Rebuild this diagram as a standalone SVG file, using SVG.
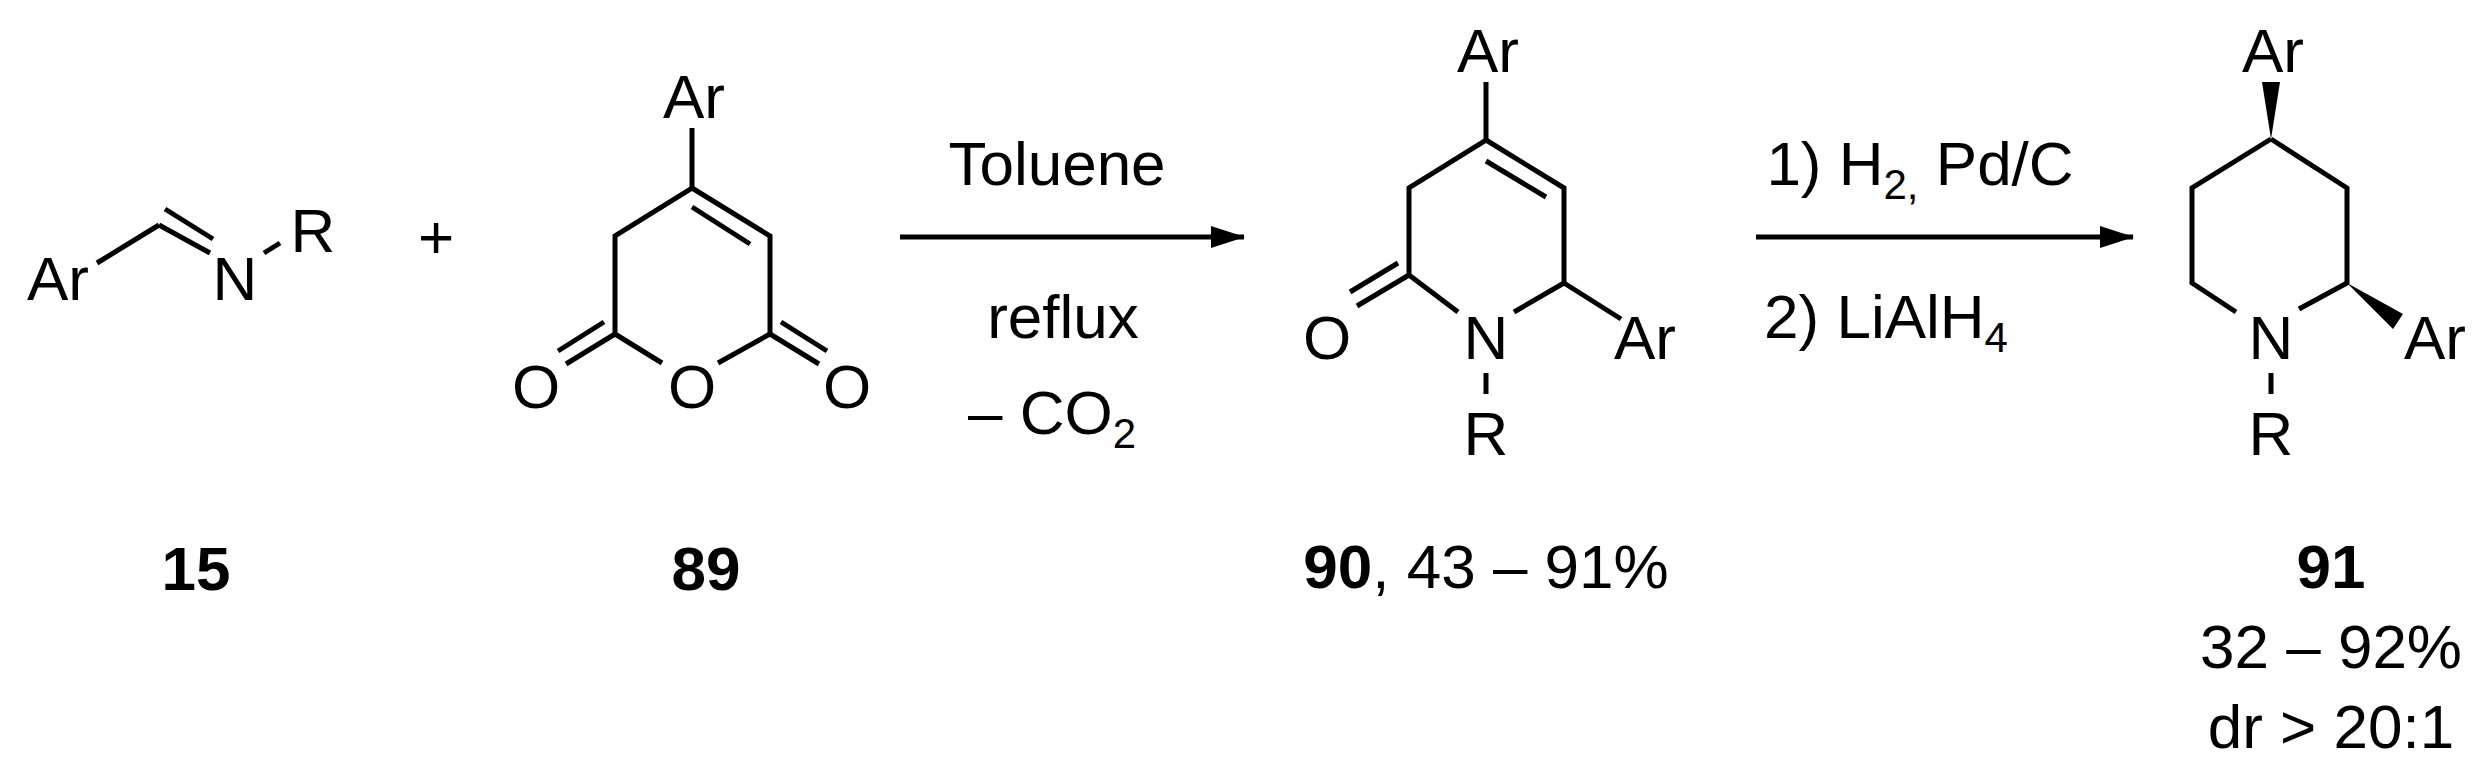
<svg xmlns="http://www.w3.org/2000/svg" width="2488" height="764" viewBox="0 0 2488 764">
<style>
text{font-family:"Liberation Sans",Arial,sans-serif;font-size:62px;fill:#000}
.c{text-anchor:middle}
.b{font-weight:bold}
.s{font-size:42px}
line,polyline{stroke:#000;stroke-width:5;fill:none}
</style>
<defs><marker id="ah" markerWidth="34" markerHeight="22" refX="33" refY="11" orient="auto" markerUnits="userSpaceOnUse" viewBox="0 0 34 22"><path d="M0,0 L34,11 L0,22 Z" fill="#000"/></marker></defs>
<rect width="2488" height="764" fill="#fff"/>
<g id="c15">
<text x="27" y="300">Ar</text>
<line x1="97" y1="263" x2="159" y2="225"/>
<line x1="159" y1="225" x2="210" y2="253"/>
<line x1="165" y1="209" x2="213" y2="239"/>
<text x="235" y="300" class="c">N</text>
<line x1="264" y1="253" x2="280" y2="243"/>
<text x="313" y="252" class="c">R</text>
<text x="196" y="590" class="c b">15</text>
</g>
<g id="plus"><text x="436" y="258" class="c">+</text></g>
<g id="c89">
<text x="694" y="118" class="c">Ar</text>
<polyline points="692,128 692,188 615,236 615,334 662,363"/>
<polyline points="718,363 770,334 770,236 692,188"/>
<line x1="692" y1="207" x2="750" y2="244"/>
<line x1="615" y1="334" x2="566" y2="364"/>
<line x1="604" y1="322" x2="558" y2="351"/>
<line x1="770" y1="334" x2="819" y2="364"/>
<line x1="781" y1="322" x2="827" y2="351"/>
<text x="536" y="408" class="c">O</text>
<text x="692" y="408" class="c">O</text>
<text x="847" y="408" class="c">O</text>
<text x="706" y="590" class="c b">89</text>
</g>
<g id="c90">
<text x="1488" y="72" class="c">Ar</text>
<polyline points="1486,82 1486,140 1409,188 1409,275 1458,312"/>
<polyline points="1514,312 1564,283 1564,188 1486,140"/>
<line x1="1486" y1="161" x2="1546" y2="197"/>
<line x1="1564" y1="283" x2="1621" y2="319"/>
<line x1="1409" y1="275" x2="1357" y2="306"/>
<line x1="1398" y1="263" x2="1350" y2="292"/>
<text x="1327" y="359" class="c">O</text>
<text x="1486" y="359" class="c">N</text>
<text x="1614" y="359">Ar</text>
<line x1="1486" y1="373" x2="1486" y2="394"/>
<text x="1486" y="455" class="c">R</text>
<text x="1486" y="588" class="c"><tspan class="b">90</tspan>, 43 – 91%</text>
</g>
<g id="c91">
<text x="2273" y="72" class="c">Ar</text>
<path d="M2271,139 L2262,82 L2280,82 Z" fill="#000"/>
<polyline points="2271,139 2192,188 2192,283 2236,312"/>
<polyline points="2299,309 2347,283 2347,188 2271,139"/>
<path d="M2347,283 L2403,314 L2393,329 Z" fill="#000"/>
<text x="2271" y="359" class="c">N</text>
<text x="2404" y="359">Ar</text>
<line x1="2271" y1="373" x2="2271" y2="394"/>
<text x="2271" y="455" class="c">R</text>
<text x="2331" y="588" class="c b">91</text>
<text x="2331" y="668" class="c">32 – 92%</text>
<text x="2331" y="748" class="c">dr &gt; 20:1</text>
</g>
<g id="connectors">
<line x1="900" y1="237" x2="1244" y2="237" marker-end="url(#ah)"/>
<line x1="1756" y1="237" x2="2133" y2="237" marker-end="url(#ah)"/>
</g>
<g id="conditions">
<text x="1057" y="185" class="c">Toluene</text>
<text x="1063" y="338" class="c">reflux</text>
<text x="1052" y="434" class="c">– CO<tspan class="s" dy="14">2</tspan></text>
<text x="1920" y="185" class="c">1) H<tspan class="s" dy="14">2,</tspan><tspan dy="-14"> Pd/C</tspan></text>
<text x="1886" y="338" class="c">2) LiAlH<tspan class="s" dy="14">4</tspan></text>
</g>
</svg>
